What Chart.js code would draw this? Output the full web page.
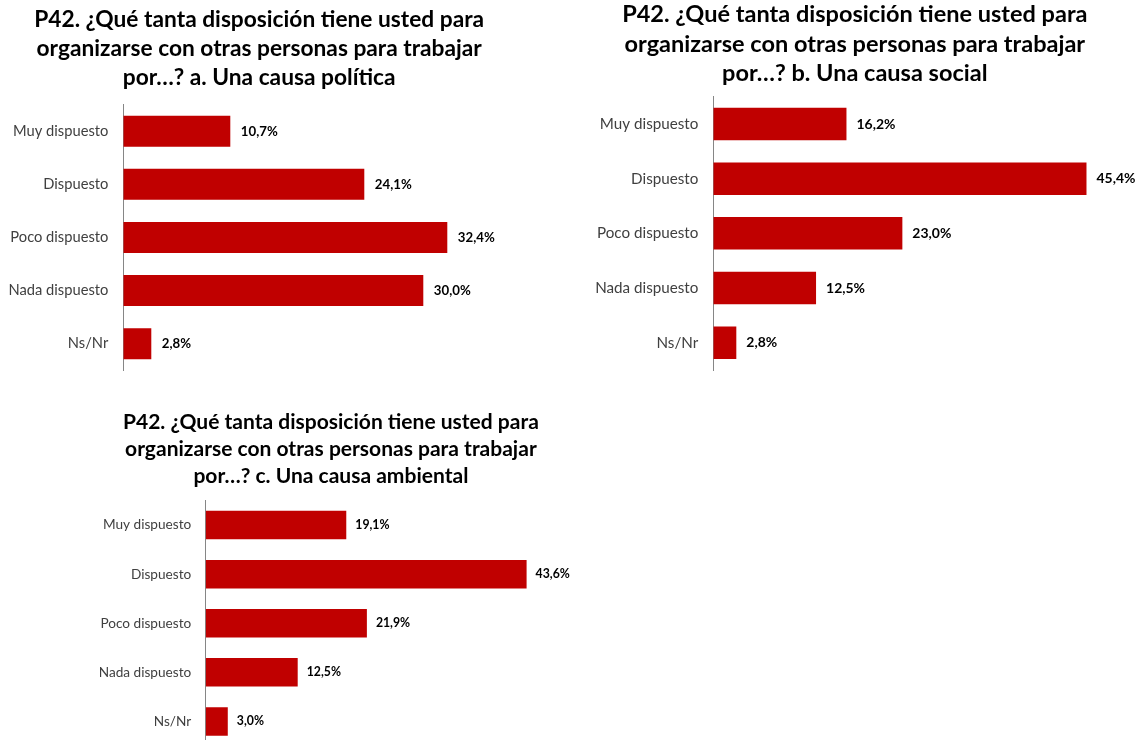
<!DOCTYPE html>
<html><head><meta charset="utf-8">
<script src="https://cdn.jsdelivr.net/npm/chart.js@4"></script>
<style>
html,body{margin:0;padding:0;background:#fff;overflow:hidden;width:1145px;height:740px;position:relative}
canvas{position:absolute}
</style></head>
<body>
<canvas id="ca"></canvas>
<canvas id="cb"></canvas>
<canvas id="cc"></canvas>
<script>
// ---- data ----
const categories = ['Muy dispuesto', 'Dispuesto', 'Poco dispuesto', 'Nada dispuesto', 'Ns/Nr'];
const politica  = [10.7, 24.1, 32.4, 30.0, 2.8];
const social    = [16.2, 45.4, 23.0, 12.5, 2.8];
const ambiental = [19.1, 43.6, 21.9, 12.5, 3.0];
const titlePolitica  = ['P42. ¿Qué tanta disposición tiene usted para', 'organizarse con otras personas para trabajar', 'por…? a. Una causa política'];
const titleSocial    = ['P42. ¿Qué tanta disposición tiene usted para', 'organizarse con otras personas para trabajar', 'por…? b. Una causa social'];
const titleAmbiental = ['P42. ¿Qué tanta disposición tiene usted para', 'organizarse con otras personas para trabajar', 'por…? c. Una causa ambiental'];

const FAMILY = 'Lato';
const fmt = v => v.toFixed(1).replace('.', ',') + '%';
const mctx = document.createElement('canvas').getContext('2d');
function fitSize(text, weight, target) {
  mctx.font = weight + ' 100px ' + FAMILY;
  return 100 * target / mctx.measureText(text).width;
}

const valueLabels = {
  id: 'valueLabels',
  afterDatasetsDraw(chart, args, opts) {
    const ctx = chart.ctx;
    const meta = chart.getDatasetMeta(0);
    const data = chart.data.datasets[0].data;
    ctx.save();
    ctx.font = 'bold ' + opts.size + 'px ' + FAMILY;
    ctx.fillStyle = '#000';
    ctx.textAlign = 'left';
    ctx.textBaseline = 'middle';
    meta.data.forEach((bar, i) => ctx.fillText(fmt(data[i]), bar.x + opts.gap, bar.y));
    ctx.restore();
  }
};

function makeChart(id, values, titleLines, s) {
  const el = document.getElementById(id);
  el.width = s.W; el.height = s.H;
  el.style.left = s.L + 'px'; el.style.top = s.T + 'px';
  const right = s.axis + s.pxPer * s.max;
  const padR = s.L + s.W - right;
  const yWidth = s.axis - s.L - s.padL;
  return new Chart(el, {
    type: 'bar',
    data: { labels: categories, datasets: [{ data: values, backgroundColor: '#C00000', borderWidth: 0,
      categoryPercentage: 1, barPercentage: s.barPct }] },
    options: {
      indexAxis: 'y', responsive: false, animation: false, devicePixelRatio: 1,
      layout: { padding: { left: s.padL, right: padR, top: 0, bottom: s.padB } },
      scales: {
        x: { display: false, min: 0, max: s.max },
        y: {
          grid: { display: false, drawTicks: false },
          border: { display: true, color: '#868686', width: 1 },
          ticks: { color: '#404040', padding: s.gapLabel,
            font: { family: FAMILY, size: fitSize('Muy dispuesto', 'normal', s.catW) } },
          afterFit: sc => { sc.width = yWidth; }
        }
      },
      plugins: {
        legend: { display: false },
        tooltip: { enabled: false },
        title: {
          display: true, text: titleLines, color: '#000',
          font: { family: FAMILY, weight: 'bold', size: fitSize(titleLines[0], 'bold', s.titleW), lineHeight: s.lh + 'px' },
          padding: { top: s.tPadT, bottom: s.tPadB }
        },
        valueLabels: { size: fitSize('45,4%', 'bold', s.valW), gap: s.gap }
      }
    },
    plugins: [valueLabels]
  });
}

makeChart('ca', politica, titlePolitica, {
  L: 0, T: 0, W: 545, H: 400, padL: 0, padB: 29.8, axis: 123.3, pxPer: 10, max: 39.5,
  barPct: 0.584, catW: 95.3, titleW: 450, valW: 37, gap: 10.5, gapLabel: 15,
  lh: 29.3, tPadT: 4.85, tPadB: 11.95
});
makeChart('cb', social, titleSocial, {
  L: 585, T: -10, W: 560, H: 410, padL: 0.3, padB: 30, axis: 713.3, pxPer: 8.22, max: 50,
  barPct: 0.594, catW: 98.6, titleW: 465.6, valW: 39, gap: 10, gapLabel: 15,
  lh: 29.9, tPadT: 9.15, tPadB: 7.85
});
makeChart('cc', ambiental, titleAmbiental, {
  L: 90, T: 380, W: 500, H: 400, padL: 0, padB: 34, axis: 205.7, pxPer: 7.36, max: 49.74,
  barPct: 0.58, catW: 88.3, titleW: 416.3, valW: 34.3, gap: 9, gapLabel: 14.5,
  lh: 27, tPadT: 28.3, tPadB: 11.2
});
</script>
</body></html>
